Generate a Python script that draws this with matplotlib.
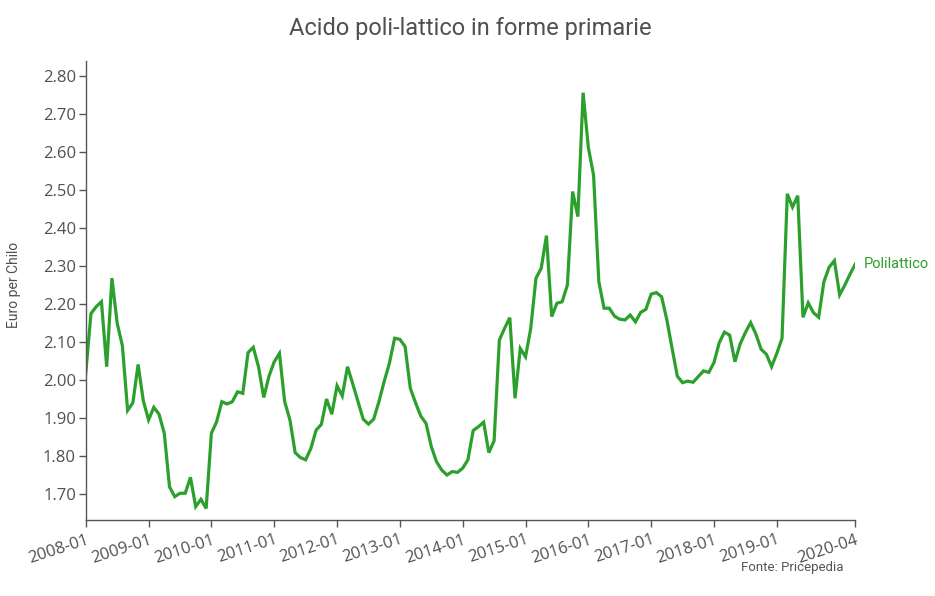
#monthly price of polylactic acid (primary forms), 2008-01 .. 2020-04

import numpy as np
import matplotlib.pyplot as plt

#data (euro per kg, one value per month)
prices = [
    2.018, 2.175, 2.193, 2.206, 2.035, 2.268, 2.150, 2.090, 1.920, 1.940, 2.041, 1.945,  # 2008
    1.895, 1.928, 1.910, 1.860, 1.719, 1.693, 1.702, 1.702, 1.744, 1.667, 1.686, 1.662,  # 2009
    1.860, 1.890, 1.943, 1.937, 1.943, 1.969, 1.965, 2.072, 2.086, 2.035, 1.954, 2.010,  # 2010
    2.048, 2.070, 1.943, 1.895, 1.809, 1.796, 1.790, 1.820, 1.868, 1.883, 1.950, 1.910,  # 2011
    1.985, 1.958, 2.035, 1.990, 1.943, 1.897, 1.884, 1.897, 1.943, 1.996, 2.044, 2.110,  # 2012
    2.107, 2.088, 1.978, 1.940, 1.905, 1.886, 1.825, 1.785, 1.763, 1.750, 1.759, 1.757,  # 2013
    1.768, 1.790, 1.867, 1.877, 1.889, 1.809, 1.840, 2.105, 2.136, 2.164, 1.952, 2.083,  # 2014
    2.061, 2.136, 2.268, 2.294, 2.380, 2.167, 2.202, 2.206, 2.250, 2.496, 2.430, 2.756,  # 2015
    2.612, 2.539, 2.259, 2.189, 2.189, 2.168, 2.160, 2.158, 2.171, 2.153, 2.178, 2.186,  # 2016
    2.226, 2.230, 2.219, 2.158, 2.083, 2.010, 1.993, 1.997, 1.994, 2.009, 2.024, 2.020,  # 2017
    2.046, 2.098, 2.126, 2.118, 2.048, 2.095, 2.125, 2.151, 2.121, 2.081, 2.068, 2.035,  # 2018
    2.070, 2.110, 2.490, 2.455, 2.485, 2.165, 2.203, 2.177, 2.165, 2.259, 2.297, 2.314,  # 2019
    2.224, 2.250, 2.279, 2.305,                                                          # 2020
]
tick_labels = ['2008-01', '2009-01', '2010-01', '2011-01', '2012-01', '2013-01',
               '2014-01', '2015-01', '2016-01', '2017-01', '2018-01', '2019-01', '2020-04']
series_name = 'Polilattico'

months = np.arange(len(prices))
tick_pos = list(range(0, 12 * 12, 12)) + [len(prices) - 1]

fig = plt.figure(figsize=(9.35, 5.96), dpi=100)
ax = fig.add_axes([0.0917, 0.1275, 0.8231, 0.7702])

ax.plot(months, prices, color='#2ca02c', lw=2.3, solid_joinstyle='miter')

ax.set_xlim(0, len(prices) - 1)
ax.set_ylim(1.6316, 2.8395)
ax.set_yticks(np.arange(1.7, 2.81, 0.1))
ax.set_yticklabels([f'{v:.2f}' for v in np.arange(1.7, 2.81, 0.1)])
ax.set_xticks(tick_pos)
ax.set_xticklabels(tick_labels, rotation=18, ha='right', va='top', rotation_mode='anchor')

for s in ['top', 'right']:
    ax.spines[s].set_visible(False)
for s in ['left', 'bottom']:
    ax.spines[s].set_color('#555555')
    ax.spines[s].set_linewidth(1.0)
ax.tick_params(length=5, width=1, color='#555555', labelcolor='#505050', labelsize=12)
ax.tick_params(axis='y', pad=2)
for lbl in ax.get_xticklabels() + ax.get_yticklabels():
    lbl.set_fontfamily(['Open Sans', 'DejaVu Sans'])

# series label at the end of the line
ax.annotate(series_name, xy=(months[-1], prices[-1]), xytext=(6, 0), textcoords='offset points',
            color='#2ca02c', fontsize=10.5, family='Roboto', va='center', ha='left',
            annotation_clip=False)

fig.text(0.503, 0.953, 'Acido poli-lattico in forme primarie', ha='center', va='center',
         fontsize=17, family='Roboto', color='#505050')
fig.text(0.0145, 0.522, 'Euro per Chilo', rotation=90, ha='center', va='center',
         fontsize=10, family='Roboto', color='#505050')
fig.text(0.902, 0.047, 'Fonte: Pricepedia', ha='right', va='center',
         fontsize=9.5, family='Roboto', color='#555555')

fig.savefig('out.png', dpi=100)
